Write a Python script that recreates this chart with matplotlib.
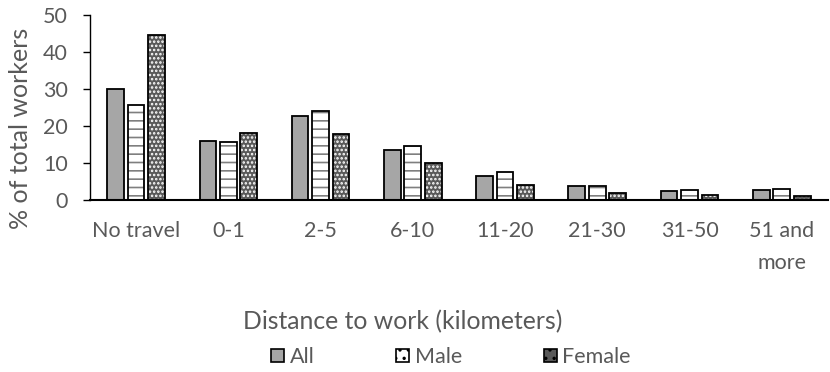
import matplotlib
matplotlib.use('Agg')
import matplotlib.pyplot as plt
import numpy as np

# distance bands and share of workers (%)
categories = ['No travel', '0-1', '2-5', '6-10', '11-20', '21-30', '31-50',
              '51 and\nmore']
all_workers = [29.9, 15.9, 22.6, 13.6, 6.5, 3.9, 2.4, 2.6]
male = [25.7, 15.7, 24.1, 14.7, 7.5, 3.9, 2.8, 3.1]
female = [44.5, 18.0, 17.7, 10.0, 4.0, 1.9, 1.35, 1.2]
yticks = [0, 10, 20, 30, 40, 50]

plt.rcParams['font.family'] = ['Lato', 'DejaVu Sans']
plt.rcParams['hatch.linewidth'] = 1.2

grey_txt = '#595959'
fig = plt.figure(figsize=(8.3, 3.72), dpi=100)
ax = fig.add_axes([0.1084, 0.4624, 0.889, 0.4973])

x = np.arange(len(categories))
w = 0.18
off = 0.222

ax.bar(x - off, all_workers, w, color='#a6a6a6', edgecolor='black',
       linewidth=1.3, zorder=2)

# male: white with grey dash pattern
ax.bar(x, male, w, color='white', edgecolor='#7f7f7f', linewidth=0,
       hatch='--', zorder=2)
ax.bar(x, male, w, color='none', edgecolor='black', linewidth=1.3, zorder=3)

# female: dark grey with white dots
ax.bar(x + off, female, w, color='#595959', edgecolor='white', linewidth=0,
       hatch='....', zorder=2)
ax.bar(x + off, female, w, color='none', edgecolor='black', linewidth=1.3,
       zorder=3)

ax.set_xlim(-0.5, len(categories) - 0.5)
ax.set_ylim(0, 50)
ax.set_yticks(yticks)
ax.set_xticks(x)
ax.set_xticklabels(categories, linespacing=1.75)
ax.tick_params(axis='x', length=0, pad=15, labelsize=15.5)
ax.tick_params(axis='y', length=5, width=1, pad=11, labelsize=15.5,
               color='black')
for lbl in ax.get_xticklabels() + ax.get_yticklabels():
    lbl.set_color(grey_txt)

for s in ['top', 'right']:
    ax.spines[s].set_visible(False)
ax.spines['left'].set_linewidth(1)
ax.spines['bottom'].set_linewidth(1.5)

fig.text(20 / 830, 1 - 128 / 372, '% of total workers', rotation=90,
         ha='center', va='center', fontsize=18, color=grey_txt)
fig.text(403 / 830, 1 - 322 / 372, 'Distance to work (kilometers)',
         ha='center', va='center', fontsize=17.8, color=grey_txt)

# legend proxies
h_all = plt.Rectangle((0, 0), 1, 1, facecolor='#a6a6a6', edgecolor='black',
                      linewidth=1.2)
h_male = plt.Rectangle((0, 0), 1, 1, facecolor='white', edgecolor='black',
                       linewidth=1.2, hatch='..')
h_fem = plt.Rectangle((0, 0), 1, 1, facecolor='#595959', edgecolor='black',
                      linewidth=1.2, hatch='..')
leg = fig.legend([h_all, h_male, h_fem], ['All', 'Male', 'Female'],
                 loc='center', bbox_to_anchor=(451 / 830, 1 - 357 / 372),
                 ncol=3, frameon=False, fontsize=15.5, handlelength=0.6,
                 handleheight=0.6, handletextpad=0.25, columnspacing=3.8,
                 borderpad=0)
for t in leg.get_texts():
    t.set_color(grey_txt)

fig.savefig('out.png', dpi=100)
